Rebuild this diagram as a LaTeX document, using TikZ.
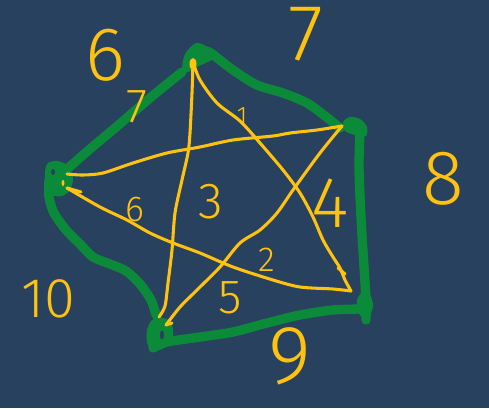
\documentclass[tikz,border=0pt]{standalone}
\usepackage{fontspec}
\newfontfamily\hand{Fira Sans Light}
\definecolor{bgc}{HTML}{28415F}
\definecolor{grn}{HTML}{0B8A3A}
\definecolor{ylw}{HTML}{FFC20E}
\tikzset{
  gedge/.style={draw=grn, line width=7pt, line cap=round, line join=round},
  gblob/.style={fill=grn},
  sline/.style={draw=ylw, line width=2.3pt, line cap=round, line join=round},
  lab/.style={font=\hand\fontsize{#1}{#1}\selectfont, text=ylw, inner sep=0pt}
}
\begin{document}
\begin{tikzpicture}[x=0.75pt,y=-0.75pt]
\fill[bgc] (0,0) rectangle (489,408);
\useasboundingbox (0,0) rectangle (489,408);
% vertices
\coordinate (A) at (193,62);
\coordinate (B) at (342,126);
\coordinate (C) at (351,291);
\coordinate (D) at (166,325);
\coordinate (E) at (67,174);
\coordinate (E2) at (67,188);
% green pentagon edges
\draw[gedge] plot[smooth] coordinates {(182,72) (150,98) (115,128) (90,149) (66,170)};
\draw[gedge] plot[smooth] coordinates {(211,53) (233,70) (257,85) (283,93) (307,103) (325,116) (340,128)};
\draw[gedge] plot[smooth] coordinates {(360,133) (359,167) (361,217) (364,267) (366,300) (366,320)};
\draw[gedge] plot[smooth] coordinates {(362,309) (333,310) (300,315) (267,323) (233,332) (200,337) (167,342) (153,348)};
\draw[gedge] plot[smooth] coordinates {(156,315) (151,300) (140,284) (126,271) (110,264) (93,257) (80,244) (66,230) (54,213) (49,197) (49,180)};
% green blobs at corners
\fill[gblob] plot[smooth cycle] coordinates {(182,70) (185,54) (196,43) (206,46) (214,50) (213,59) (199,66) (188,72)};
\fill[gblob] plot[smooth cycle] coordinates {(343,122) (350,117) (360,119) (367,127) (366,136) (355,135) (345,131)};
\fill[gblob] plot[smooth cycle] coordinates {(357,300) (362,293) (370,295) (373,305) (370,315) (364,318) (358,312)};
\fill[gblob] plot[smooth cycle] coordinates {(147,330) (152,320) (162,318) (171,322) (173,336) (166,347) (152,351) (147,342)};
\fill[bgc] (162,335) ellipse (2.2 and 4.5);
\fill[gblob] plot[smooth cycle] coordinates {(45,172) (48,163) (58,161) (68,166) (73,178) (70,190) (62,196) (52,195) (46,186)};
\fill[bgc] (53,172) ellipse (2 and 3);
% yellow star lines
\draw[sline] plot[smooth] coordinates {(A) (200,80) (217,103) (240,121) (260,143) (283,170) (300,193) (313,217) (323,240) (333,257) (340,268) (345,280) (C)};
\draw[sline] (338,268) -- (345,274);
\draw[sline] plot[smooth] coordinates {(C) (333,289) (300,287) (273,280) (233,267) (200,253) (173,243) (150,233) (127,220) (100,207) (E2)};
\draw[sline] (E2) -- (81,192);
\draw[sline] plot[smooth] coordinates {(A) (192,93) (190,133) (188,153) (182,180) (175,213) (172,250) (168,283) (165,306) (159,317)};
\draw[sline] plot[smooth] coordinates {(E) (83,175) (103,173) (133,163) (167,153) (200,147) (233,140) (273,136) (290,133) (317,130) (B)};
\draw[sline] plot[smooth] coordinates {(B) (320,153) (293,190) (277,213) (260,230) (240,243) (220,267) (197,290) (180,307) (D)};
\draw[sline] (D) -- (172,323);
\fill[ylw] (193,64) ellipse (3.5 and 6);
\fill[ylw] (63,183) ellipse (1.5 and 3);
% labels
\node[lab=57] (l6) at (105,55) {6};
\node[lab=36] (l7a) at (137,107) {7};
\node[lab=60] (l7) at (306,34) {7};
\node[lab=58] (l8) at (443,179) {8};
\node[lab=62] (l9) at (290,356) {9};
\node[lab=42] (l10) at (48,299) {10};
\node[lab=19] (l1) at (242,116) {1};
\node[lab=38] (l3) at (211,202) {3};
\node[lab=54] (l4) at (330,203) {4};
\node[lab=26] (l2) at (267,260) {2};
\node[lab=36] (l5) at (230,298) {5};
\node[lab=27] (l6b) at (135,210) {6};
\end{tikzpicture}
\end{document}
